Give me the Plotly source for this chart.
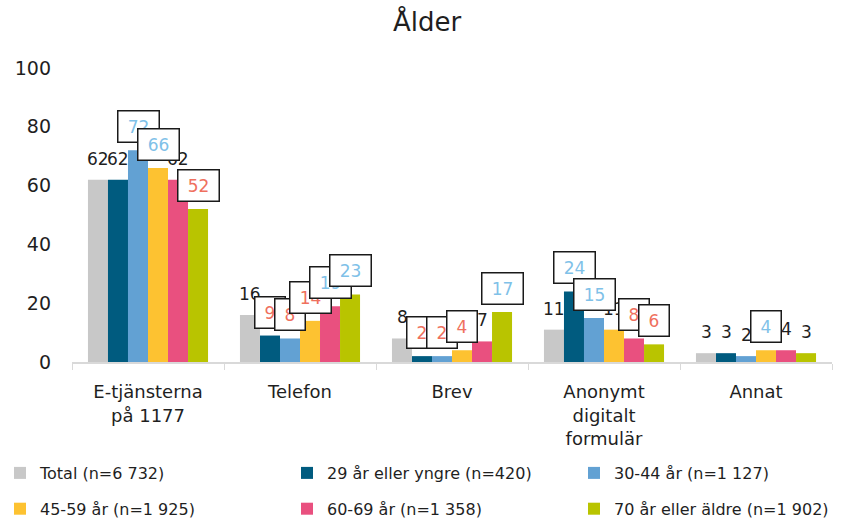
import plotly.graph_objects as go

categories = ["E-tjänsterna<br>på 1177", "Telefon", "Brev", "Anonymt<br>digitalt<br>formulär", "Annat"]
series_names = ["Total (n=6 732)", "29 år eller yngre (n=420)", "30-44 år (n=1 127)",
                "45-59 år (n=1 925)", "60-69 år (n=1 358)", "70 år eller äldre (n=1 902)"]
total = [62, 16, 8, 11, 3]
age_29 = [62, 9, 2, 24, 3]
age_30_44 = [72, 8, 2, 15, 2]
age_45_59 = [66, 14, 4, 11, 4]
age_60_69 = [62, 19, 7, 8, 4]
age_70 = [52, 23, 17, 6, 3]
# significance markers: "up" = significantly higher (blue box), "down" = lower (red box), "" = none
sig_total = ["", "", "", "", ""]
sig_29 = ["", "down", "down", "up", ""]
sig_30_44 = ["up", "down", "down", "up", ""]
sig_45_59 = ["up", "down", "down", "", "up"]
sig_60_69 = ["", "up", "", "down", ""]
sig_70 = ["down", "up", "up", "down", ""]

values = [total, age_29, age_30_44, age_45_59, age_60_69, age_70]
sigs = [sig_total, sig_29, sig_30_44, sig_45_59, sig_60_69, sig_70]
colors = ["#c8c8c8", "#005b7f", "#62a1d3", "#fdc231", "#e9507f", "#b9c400"]
legends = ["legend", "legend2", "legend3", "legend", "legend2", "legend3"]

FONT = "DejaVu Sans"
TXT = "#1f1f1f"

fig = go.Figure()
for i, (name, vals) in enumerate(zip(series_names, values)):
    fig.add_trace(go.Bar(
        x=categories, y=vals, name=name, marker_color=colors[i], marker_line_width=0,
        legend=legends[i], legendgroup=f"g{i}", hoverinfo="skip",
    ))

BAR_PX = 20
plain = []
boxed = []
for i, vals in enumerate(values):
    for j, v in enumerate(vals):
        xs = (i - 2.5) * BAR_PX
        s = sigs[i][j]
        if s == "":
            plain.append(dict(x=j, y=v, xref="x", yref="y", text=str(v),
                              showarrow=False, xanchor="center", yanchor="bottom",
                              xshift=xs, yshift=9, font=dict(size=17, color=TXT, family=FONT)))
        else:
            col = "#7fc1e8" if s == "up" else "#ef705e"
            boxed.append(dict(x=j, y=v, xref="x", yref="y", text=str(v),
                              showarrow=False, xanchor="center", yanchor="bottom",
                              xshift=xs, yshift=7, width=11 * len(str(v)) + 8,
                              bgcolor="white", bordercolor="#1a1a1a", borderwidth=1.5,
                              borderpad=5, font=dict(size=17, color=col, family=FONT)))

fig.update_layout(annotations=plain + boxed)

PLOT_L, PLOT_W, PLOT_T, PLOT_H = 72, 760, 68, 294


def px_x(p):
    return (p - PLOT_L) / PLOT_W


def px_y(p):
    return 1 - (p - PLOT_T) / PLOT_H


leg_common = dict(orientation="v", xref="paper", yref="paper", yanchor="top",
                  xanchor="left", font=dict(size=16, color=TXT, family=FONT),
                  tracegroupgap=12, bgcolor="rgba(0,0,0,0)", itemclick=False)
fig.update_layout(
    width=842, height=519,
    paper_bgcolor="white", plot_bgcolor="white",
    margin=dict(l=PLOT_L, r=842 - PLOT_L - PLOT_W, t=PLOT_T, b=519 - PLOT_T - PLOT_H,
                autoexpand=False),
    title=dict(text="Ålder", x=427 / 842, xanchor="center", y=1 - 22 / 519, yanchor="middle",
               font=dict(size=26, color=TXT, family=FONT)),
    font=dict(family=FONT, color=TXT),
    barmode="group", bargap=0.21, bargroupgap=0,
    showlegend=True,
    legend=dict(x=px_x(0), y=px_y(456), **leg_common),
    legend2=dict(x=px_x(287), y=px_y(456), **leg_common),
    legend3=dict(x=px_x(574), y=px_y(456), **leg_common),
    xaxis=dict(type="category", showline=True, linecolor="#d9d9d9", linewidth=1.5,
               ticks="outside", ticklen=6, tickcolor="#d9d9d9", tickson="boundaries",
               tickfont=dict(size=18, color=TXT, family=FONT), showgrid=False,
               ticklabelstandoff=13, automargin=False),
    yaxis=dict(range=[0, 100], tickvals=[0, 20, 40, 60, 80, 100], showgrid=False,
               zeroline=False, showline=False, ticks="", automargin=False,
               tickfont=dict(size=19, color=TXT, family=FONT), ticklabelstandoff=20),
)

fig.write_html("out.html", config={"displayModeBar": False},
               post_script="document.body.style.margin='0';")
